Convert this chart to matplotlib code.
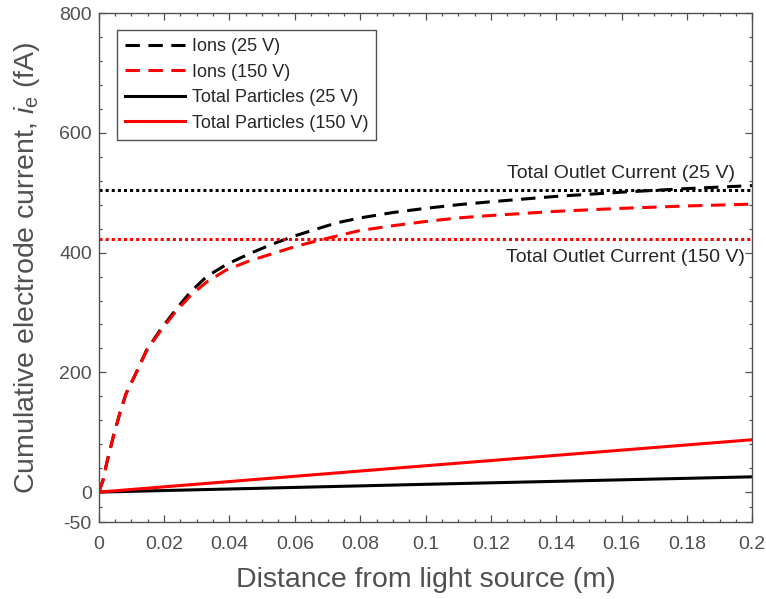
import numpy as np
import matplotlib
matplotlib.use("Agg")
import matplotlib.pyplot as plt
from matplotlib.ticker import FixedLocator

plt.rcParams["font.family"] = ["Liberation Sans", "DejaVu Sans"]
plt.rcParams["mathtext.fontset"] = "custom"
plt.rcParams["mathtext.rm"] = "Liberation Sans"
plt.rcParams["mathtext.it"] = "Liberation Sans:italic"
plt.rcParams["axes.unicode_minus"] = False

# ---------------------------------------------------------------------------
# Data
# ---------------------------------------------------------------------------
dist = [0, 0.0013, 0.0024, 0.0044, 0.0064, 0.0083, 0.0115, 0.0146, 0.0187,
        0.0233, 0.028, 0.033, 0.039, 0.046, 0.053, 0.06, 0.067, 0.073, 0.08,
        0.09, 0.1, 0.11, 0.12, 0.14, 0.16, 0.18, 0.2]
ions_25 = [0, 20, 48, 92, 131, 164, 200, 237, 270, 303, 334, 360, 380, 398,
           414, 428, 440, 450, 458, 467, 474, 480, 485, 494, 501, 507, 512]
ions_150 = [0, 20, 48, 92, 131, 164, 200, 236, 268, 300, 328, 351, 371, 386,
            398, 410, 420, 428, 437, 445, 452, 458, 462, 469, 474, 478, 481]

total_x = [0, 0.1, 0.2]
total_25 = [0, 13, 25.5]
total_150 = [0, 44, 87.5]

outlet_25 = 505
outlet_150 = 422

x_ticks = [0, 0.02, 0.04, 0.06, 0.08, 0.1, 0.12, 0.14, 0.16, 0.18, 0.2]
x_labels = ["0", "0.02", "0.04", "0.06", "0.08", "0.1", "0.12", "0.14",
            "0.16", "0.18", "0.2"]
y_ticks = [-50, 0, 200, 400, 600, 800]
y_minor = [-25] + list(range(40, 800, 40))

AXC = "#505050"
TXT = "#262626"

fig = plt.figure(figsize=(7.66, 5.99), dpi=100)
ax = fig.add_axes([0.129, 0.1285, 0.853, 0.8495])

dash = (0, (4.7, 2.8))
dot = (0, (1, 1))

ax.plot(dist, ions_25, color="black", lw=2.2, ls=dash, label="Ions (25 V)")
ax.plot(dist, ions_150, color="red", lw=2.2, ls=dash, label="Ions (150 V)")
ax.plot(total_x, total_25, color="black", lw=2.2, label="Total Particles (25 V)")
ax.plot(total_x, total_150, color="red", lw=2.2, label="Total Particles (150 V)")

ax.axhline(outlet_25, color="black", lw=2.2, ls=dot)
ax.axhline(outlet_150, color="red", lw=2.2, ls=dot)

ax.text(0.1948, 533, "Total Outlet Current (25 V)", ha="right", va="center",
        fontsize=14, color=TXT)
ax.text(0.1979, 392, "Total Outlet Current (150 V)", ha="right", va="center",
        fontsize=14, color=TXT)

ax.set_xlim(0, 0.2)
ax.set_ylim(-50, 800)
ax.set_xticks(x_ticks)
ax.set_xticklabels(x_labels)
ax.set_yticks(y_ticks)
ax.xaxis.set_minor_locator(FixedLocator(np.arange(0.005, 0.2, 0.005)))
ax.yaxis.set_minor_locator(FixedLocator(y_minor))

ax.tick_params(which="both", direction="in", top=True, right=True,
               color=AXC, width=0.9, labelcolor=AXC, labelsize=14)
ax.tick_params(which="major", length=5)
ax.tick_params(which="minor", length=2.5)
ax.tick_params(axis="x", which="major", pad=10)
ax.tick_params(axis="y", which="major", pad=5)
for sp in ax.spines.values():
    sp.set_color(AXC)
    sp.set_linewidth(1)

ax.set_xlabel("Distance from light source (m)", fontsize=20.5, color=AXC,
              labelpad=10)
ax.set_ylabel(r"Cumulative electrode current, $\mathit{i}_\mathrm{e}$ (fA)",
              fontsize=20.5, color=AXC, labelpad=12)

leg = ax.legend(loc="upper left", bbox_to_anchor=(0.0276, 0.967),
                borderaxespad=0, fancybox=False, fontsize=13,
                handlelength=3.3, labelspacing=0.47, borderpad=0.45,
                handletextpad=0.4)
leg.get_frame().set_edgecolor("#262626")
leg.get_frame().set_linewidth(1)
for t in leg.get_texts():
    t.set_color(TXT)

fig.savefig("out.png", dpi=100)
